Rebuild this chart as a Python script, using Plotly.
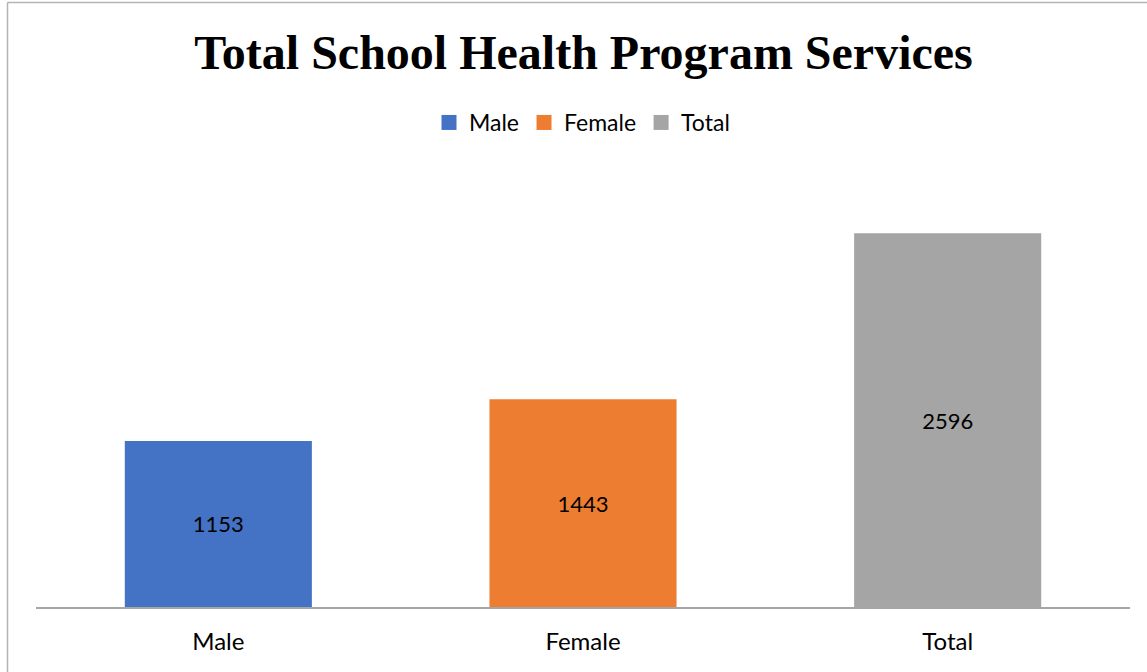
import plotly.graph_objects as go

categories = ["Male", "Female", "Total"]
values = [1153, 1443, 2596]
colors = ["#4472C4", "#ED7D31", "#A5A5A5"]

title_text = "Total School Health Program Services"

fig = go.Figure()
for cat, val, col in zip(categories, values, colors):
    fig.add_trace(go.Bar(
        x=[cat], y=[val], name=cat, showlegend=False,
        marker=dict(color=col, line=dict(width=0)),
        width=0.513,
        text=[str(val)], textposition="inside", insidetextanchor="middle",
        textangle=0,
        textfont=dict(family="Lato", size=22, color="#000000"),
        hoverinfo="skip",
    ))
# legend entries with larger square swatches
for cat, col in zip(categories, colors):
    fig.add_trace(go.Scatter(
        x=[None], y=[None], mode="markers", name=cat, showlegend=True,
        marker=dict(symbol="square", size=15, color=col, line=dict(width=0)),
        hoverinfo="skip",
    ))

L, R, T, B = 36, 17, 175, 65
W, H = 1147, 672
pw, ph = W - L - R, H - T - B

def px_x(x):
    return (x - L) / pw

def px_y(y):
    return (H - B - y) / ph

border = "#B4B4B4"
fig.add_shape(type="line", xref="paper", yref="paper",
              x0=px_x(7.5), x1=px_x(1200), y0=px_y(2.5), y1=px_y(2.5),
              line=dict(color=border, width=1.5))
fig.add_shape(type="line", xref="paper", yref="paper",
              x0=px_x(7.5), x1=px_x(7.5), y0=px_y(2.5), y1=px_y(700),
              line=dict(color=border, width=1.5))

fig.update_layout(
    width=W, height=H,
    margin=dict(l=L, r=R, t=T, b=B),
    paper_bgcolor="white", plot_bgcolor="white",
    barmode="overlay",
    showlegend=True,
    title=dict(text="<b>" + title_text + "</b>", x=(583.5) / W, xanchor="center",
               y=1 - 52 / H, yanchor="middle",
               font=dict(family="Liberation Serif", size=48, color="#000000")),
    legend=dict(orientation="h", x=px_x(582), xanchor="center",
                y=px_y(122.5), yanchor="middle",
                font=dict(family="Lato", size=23, color="#000000"),
                itemwidth=30, traceorder="normal"),
    xaxis=dict(showline=True, linecolor="#A6A6A6", linewidth=1.5,
               ticks="outside", ticklen=12, tickcolor="rgba(0,0,0,0)",
               tickfont=dict(family="Lato", size=24, color="#000000"),
               showgrid=False, zeroline=False, fixedrange=True),
    yaxis=dict(range=[0, 3000], visible=False, showgrid=False, zeroline=False),
)

fig.write_html("out.html", config={"displayModeBar": False},
               post_script="document.body.style.margin='0';document.body.style.overflow='hidden';")
